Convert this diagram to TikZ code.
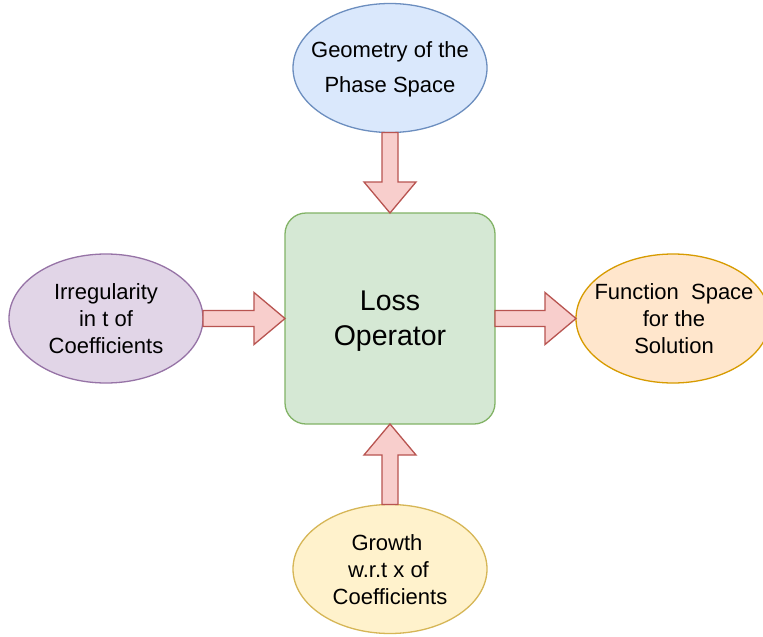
\documentclass[tikz,border=0pt]{standalone}
\usepackage{fontspec}
\setmainfont{Liberation Sans}
\usetikzlibrary{shapes.geometric,calc}
\definecolor{blueF}{HTML}{DAE8FC}\definecolor{blueS}{HTML}{6C8EBF}
\definecolor{greenF}{HTML}{D5E8D4}\definecolor{greenS}{HTML}{82B366}
\definecolor{purpleF}{HTML}{E1D5E7}\definecolor{purpleS}{HTML}{9673A6}
\definecolor{orangeF}{HTML}{FFE6CC}\definecolor{orangeS}{HTML}{D79B00}
\definecolor{yellowF}{HTML}{FFF2CC}\definecolor{yellowS}{HTML}{D6B656}
\definecolor{redF}{HTML}{F8CECC}\definecolor{redS}{HTML}{B85450}
\newcommand{\blockarr}[2]{%
  \coordinate (hb) at ($(#2)!31pt!(#1)$);
  \draw[barrow] ($(#1)!8pt!90:(#2)$) -- ($(hb)!8pt!90:(#2)$) -- ($(hb)!26pt!90:(#2)$) -- (#2)
     -- ($(hb)!26pt!-90:(#2)$) -- ($(hb)!8pt!-90:(#2)$) -- ($(#1)!8pt!-90:(#2)$) -- cycle;}
\begin{document}
\begin{tikzpicture}[x=1pt,y=-1pt,
  oval/.style={ellipse, draw, line width=1.3pt, minimum width=194pt, minimum height=129pt, inner sep=0pt, outer sep=0pt},
  ovaltext/.style={align=center, inner sep=0pt, font=\fontsize{22}{27}\selectfont},
  mainbox/.style={rectangle, rounded corners=21pt, draw=greenS, fill=greenF, line width=1.3pt, minimum width=210pt, minimum height=211pt, inner sep=0pt, outer sep=0pt},
  barrow/.style={draw=redS, fill=redF, line width=1.3pt, line join=miter}]
\clip (0,0) rectangle (763,637);
\fill[white] (0,0) rectangle (763,637);
\node[mainbox] (loss) at (390,318.5) {};
\node[ovaltext, font=\fontsize{28.5}{35}\selectfont] (losst) at ($(loss.center)+(0,2.5)$) {Loss\\Operator};
\node[oval, draw=blueS, fill=blueF] (geo) at (390,68) {};
\node[ovaltext, font=\fontsize{22}{35}\selectfont] (geot) at ($(geo.center)+(0,1.5)$) {Geometry of the\\Phase Space};
\node[oval, draw=purpleS, fill=purpleF] (irr) at (106,318.5) {};
\node[ovaltext] (irrt) at (irr.center) {Irregularity\\in t of\\Coefficients};
\node[oval, draw=orangeS, fill=orangeF] (fun) at (673,318.5) {};
\node[ovaltext] (funt) at ($(fun.center)+(1,0)$) {Function\ \ Space\\for the\\Solution};
\node[oval, draw=yellowS, fill=yellowF] (gro) at (390,569) {};
\node[ovaltext] (grot) at ($(gro.center)+(0,1)$) {Growth\kern6pt\\w.r.t x of\kern3pt\\Coefficients};
\blockarr{geo.south}{loss.north}
\blockarr{irr.east}{loss.west}
\blockarr{loss.east}{fun.west}
\blockarr{gro.north}{loss.south}
\end{tikzpicture}
\end{document}
